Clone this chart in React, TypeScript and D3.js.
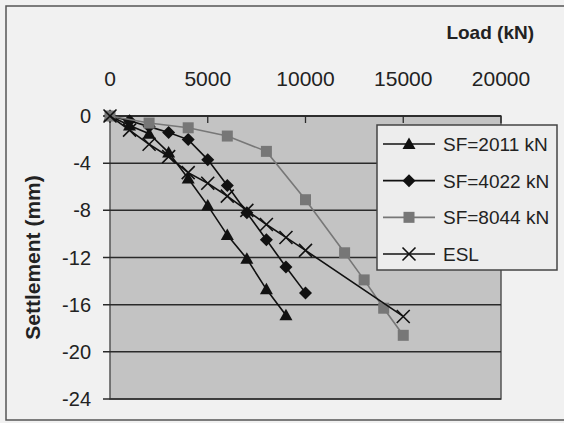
import React from 'react';
import * as d3 from 'd3';

// loads (kN) and settlements (mm)
const sf2011Load = [0, 1000, 2000, 3000, 4000, 5000, 6000, 7000, 8000, 9000];
const sf2011Settle = [0, -0.8, -1.5, -3.1, -5.3, -7.6, -10.1, -12.1, -14.7, -16.9];

const sf4022Load = [0, 1000, 2000, 3000, 4000, 5000, 6000, 7000, 8000, 9000, 10000];
const sf4022Settle = [0, -0.4, -0.9, -1.4, -2.0, -3.7, -5.9, -8.2, -10.5, -12.8, -15.0];

const sf8044Load = [0, 2000, 4000, 6000, 8000, 10000, 12000, 13000, 14000, 15000];
const sf8044Settle = [0, -0.6, -1.0, -1.7, -3.0, -7.1, -11.6, -13.9, -16.3, -18.6];

const eslLoad = [0, 1000, 2000, 3000, 4000, 5000, 6000, 7000, 8000, 9000, 10000, 15000];
const eslSettle = [0, -1.2, -2.4, -3.45, -4.8, -5.7, -6.8, -8.0, -9.2, -10.3, -11.4, -17.0];

const xTicks = [0, 5000, 10000, 15000, 20000];
const yTicks = [0, -4, -8, -12, -16, -20, -24];

const seriesNames = ['SF=2011 kN', 'SF=4022 kN', 'SF=8044 kN', 'ESL'];

type Series = { name: string; load: number[]; settle: number[]; color: string; marker: string };

const series: Series[] = [
  { name: seriesNames[0], load: sf2011Load, settle: sf2011Settle, color: '#111', marker: 'triangle' },
  { name: seriesNames[1], load: sf4022Load, settle: sf4022Settle, color: '#111', marker: 'diamond' },
  { name: seriesNames[2], load: sf8044Load, settle: sf8044Settle, color: '#777', marker: 'square' },
  { name: seriesNames[3], load: eslLoad, settle: eslSettle, color: '#111', marker: 'cross' },
];

const FONT = '"Liberation Sans", Arial, sans-serif';

const Marker: React.FC<{ kind: string; x: number; y: number; color: string }> = ({ kind, x, y, color }) => {
  if (kind === 'triangle') {
    return <path d={`M${x},${y - 6.5}L${x + 6.5},${y + 5}L${x - 6.5},${y + 5}Z`} fill="#111" />;
  }
  if (kind === 'diamond') {
    return <path d={`M${x},${y - 6.5}L${x + 6.5},${y}L${x},${y + 6.5}L${x - 6.5},${y}Z`} fill="#111" />;
  }
  if (kind === 'square') {
    return <rect x={x - 5.5} y={y - 5.5} width={11} height={11} fill={color} />;
  }
  return (
    <path d={`M${x - 6.5},${y - 6.5}L${x + 6.5},${y + 6.5}M${x + 6.5},${y - 6.5}L${x - 6.5},${y + 6.5}`} stroke="#111" strokeWidth={1.6} />
  );
};

export default function App() {
  const left = 110, right = 501, top = 116, bottom = 399;

  const x = d3.scaleLinear().domain([0, 20000]).range([left, right]);
  const y = d3.scaleLinear().domain([0, -24]).range([top, bottom]);

  const line = d3
    .line<[number, number]>()
    .x((d) => x(d[0]))
    .y((d) => y(d[1]));

  const legendY = d3.scalePoint<string>().domain(seriesNames).range([144, 254]);

  return (
    <svg width={564} height={423} style={{ position: 'absolute', left: 0, top: 0 }} fontFamily={FONT}>
      <rect x={0} y={0} width={564} height={423} fill="#f1f1f1" />
      <rect x={6} y={6} width={570} height={414} fill="none" stroke="#555" strokeWidth={1.5} />

      {/* plot area */}
      <rect x={left} y={top} width={right - left} height={bottom - top} fill="#c3c3c3" stroke="#555" strokeWidth={1.5} />

      {/* gridlines + outward y ticks */}
      {yTicks.map((t) => (
        <line key={t} x1={left - 7} x2={right} y1={y(t)} y2={y(t)} stroke="#2a2a2a" strokeWidth={1.5} />
      ))}
      {yTicks.map((t) => (
        <text key={'l' + t} x={91} y={y(t)} dy="0.35em" textAnchor="end" fontSize={20} fill="#222">
          {t}
        </text>
      ))}

      {/* top x axis, ticks inward */}
      <line x1={left} x2={right} y1={top} y2={top} stroke="#2a2a2a" strokeWidth={1.5} />
      {xTicks.map((t) => (
        <line key={t} x1={x(t)} x2={x(t)} y1={top} y2={top + 7} stroke="#2a2a2a" strokeWidth={1.3} />
      ))}
      {xTicks.map((t) => (
        <text key={'x' + t} x={x(t)} y={86} textAnchor="middle" fontSize={21} fill="#222">
          {t}
        </text>
      ))}

      <text x={534} y={39} textAnchor="end" fontSize={19} fontWeight="bold" fill="#222">
        Load (kN)
      </text>
      <text
        transform={`translate(40,${(top + bottom) / 2}) rotate(-90)`}
        textAnchor="middle"
        fontSize={21}
        fontWeight="bold"
        fill="#222"
      >
        Settlement (mm)
      </text>

      {/* series */}
      {series.map((s) => {
        const pts = s.load.map((l, i) => [l, s.settle[i]] as [number, number]);
        return (
          <g key={s.name}>
            <path d={line(pts) || ''} fill="none" stroke={s.color} strokeWidth={1.6} />
            {pts.map((p, i) => (
              <Marker key={i} kind={s.marker} x={x(p[0])} y={y(p[1])} color={s.color} />
            ))}
          </g>
        );
      })}

      {/* legend */}
      <rect x={377} y={125} width={180} height={145} fill="#ededed" stroke="#444" strokeWidth={1.5} />
      {series.map((s) => {
        const ly = legendY(s.name) as number;
        return (
          <g key={'lg' + s.name}>
            <line x1={383} x2={435} y1={ly} y2={ly} stroke={s.color} strokeWidth={1.6} />
            <Marker kind={s.marker} x={409} y={ly} color={s.color} />
            <text x={443} y={ly} dy="0.36em" fontSize={19} fill="#222">
              {s.name}
            </text>
          </g>
        );
      })}
    </svg>
  );
}
